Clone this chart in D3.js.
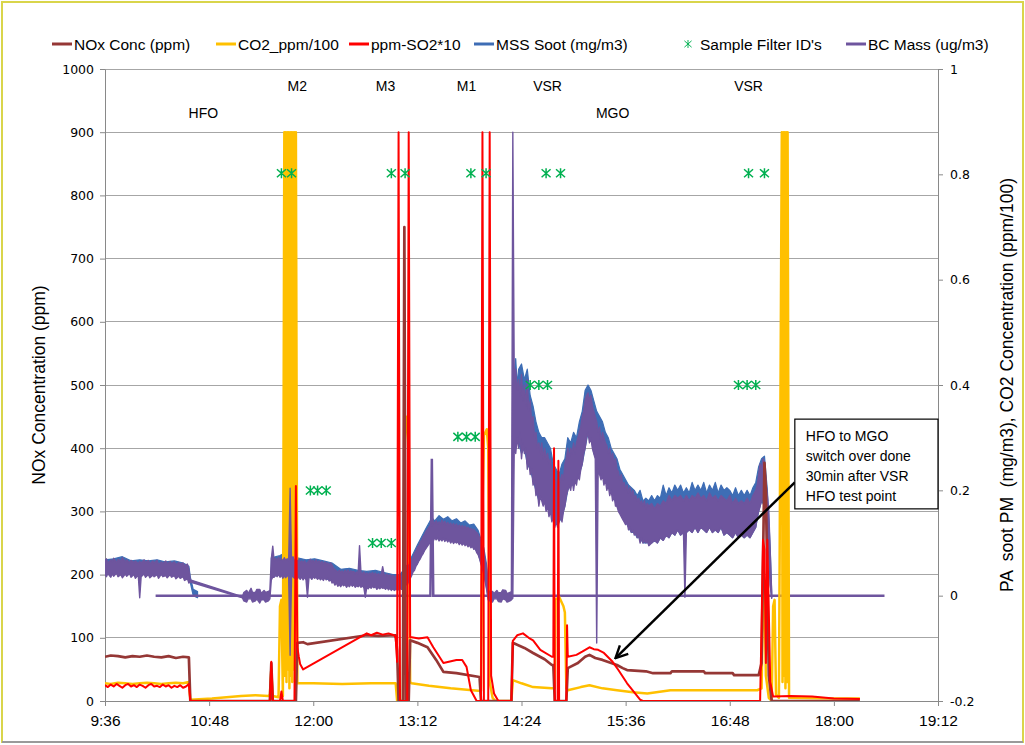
<!DOCTYPE html>
<html><head><meta charset="utf-8">
<script src="https://cdn.jsdelivr.net/npm/d3@7"></script>
<style>body{margin:0;background:#fff}svg{display:block}</style>
</head><body>
<svg id="chart" width="1025" height="745"></svg>
<script>
// ---------- DATA ----------
const xTickLabels = ["9:36","10:48","12:00","13:12","14:24","15:36","16:48","18:00","19:12"];
const leftTicks = [0,100,200,300,400,500,600,700,800,900,1000];
const rightTicks = [-0.2,0,0.2,0.4,0.6,0.8,1];
const rightTickLabels = ["-0.2","0","0.2","0.4","0.6","0.8","1"];

// NOx Conc (ppm) – left axis
const noxConc = [
["9:36",70],["9:40",72],["9:45",71],["9:50",69],["9:55",71],["10:00",70],["10:05",72],["10:10",70],["10:15",69],["10:20",71],["10:25",68],["10:30",70],["10:34",69],["10:35",0],
["11:30",0],["11:31",60],["11:32",0],["11:48",0],["11:49",92],["11:53",93],["11:56",90],
["12:37",104],["12:45",103],["12:57",104],["12:58",80],["12:59",0],["13:02",0],["13:03",750],["13:04",0],["13:06",0],["13:07",96],
["13:12",92],["13:19",85],["13:25",65],["13:30",46],["13:39",44],["13:55",38],["13:56",0],
["14:17",0],["14:18",92],["14:21",89],["14:26",84],["14:32",76],["14:40",66],["14:45",57],["14:46",57],["14:47",0],["14:55",0],["14:56",52],
["15:03",60],["15:08",70],["15:11",73],["15:15",68],["15:20",65],["15:26",60],["15:30",57],["15:34",52],["15:37",49],["15:50",47],["15:55",44],
["16:07",44],["16:08",47],["16:30",47],["16:31",44],["16:50",44],["16:51",41],["17:08",41],["17:10",60],["17:12",377],["17:13",330],["17:15",40],["17:17",0],["18:18",0]
];

// CO2_ppm/100 – left axis units
const co2Conc = [
["9:36",28],["9:40",27],["9:45",29],["9:50",28],["9:55",27],["10:00",28],["10:05",29],["10:10",28],["10:15",27],["10:20",28],["10:25",29],["10:30",28],["10:34",30],["10:35",2],
["10:50",4],["11:00",6],["11:10",8],["11:20",9],["11:29",8],["11:30",10],["11:31",50],["11:32",8],["11:36",6],["11:37",150],["11:38",160],["11:39",8],
["11:40",900],["11:40:30",40],["11:41",900],["11:41:30",30],["11:42",900],["11:42:30",50],["11:43",900],["11:43:30",20],["11:44",900],["11:44:30",40],
["11:45",900],["11:45:30",30],["11:46",900],["11:46:30",50],["11:47",900],["11:47:30",30],["11:48",900],["11:49",28],
["12:00",28],["12:20",27],["12:40",28],["12:57",28],["12:58",0],["13:02",0],["13:03",380],["13:04",450],["13:05",440],["13:06",400],["13:07",30],
["13:08",28],["13:20",24],["13:35",20],["13:50",17],["13:56",16],["13:57",300],["13:58",420],["14:00",430],["14:01",400],["14:02",30],["14:04",5],["14:06",0],
["14:17",0],["14:18",33],["14:24",28],["14:32",22],["14:45",20],["14:47",20],["14:47:30",160],["14:50",165],["14:53",150],["14:54",140],["14:55",20],
["14:56",17],["15:05",22],["15:11",25],["15:20",20],["15:30",17],["15:41",14],["15:51",12],["16:07",17],["16:30",17],["17:07",17],["17:10",20],
["17:11",150],["17:12",180],["17:13",40],["17:15",5],["17:17",0],["17:18",150],["17:19",160],["17:20",10],["17:22",5],
["17:24",900],["17:24:30",30],["17:25",900],["17:25:30",40],["17:26",900],["17:26:30",20],["17:27",900],["17:27:30",30],["17:28",900],["17:29",5],["18:00",4],["18:18",4]
];

// ppm-SO2*10 – left axis
const so2x10 = [
["9:36",25],["9:38",22],["9:40",26],["9:42",23],["9:44",27],["9:46",24],["9:48",21],["9:50",25],["9:52",27],["9:54",23],["9:56",25],["9:58",22],
["10:00",26],["10:02",24],["10:04",21],["10:06",25],["10:08",27],["10:10",23],["10:12",24],["10:14",22],["10:16",26],["10:18",23],["10:20",25],
["10:22",21],["10:24",24],["10:26",22],["10:28",25],["10:30",21],["10:32",23],["10:34",27],["10:35",0],
["11:30",0],["11:31",62],["11:32",0],["11:37",0],["11:38",15],["11:39",0],["11:47",0],["11:48",340],["11:49",85],["11:50",70],["11:51",58],["11:53",50],
["12:37",107],["12:40",104],["12:44",108],["12:48",105],["12:52",107],["12:56",104],["12:57",100],["12:58",62],["12:59",900],["13:00",0],["13:05",0],["13:06",900],["13:07",101],
["13:08",101],["13:13",99],["13:19",101],["13:23",85],["13:30",60],["13:39",65],["13:43",65],["13:46",54],["13:49",17],["13:53",0],["13:56",0],["13:57",900],["13:58",0],
["14:01",0],["14:02",900],["14:03",40],["14:05",12],["14:08",0],["14:17",0],["14:18",95],["14:21",104],["14:25",107],["14:29",100],["14:32",96],["14:37",81],
["14:45",70],["14:46",70],["14:46:30",400],["14:47",0],["14:49",0],["14:49:30",380],["14:50",0],["14:55",0],["14:55:30",120],["14:56",70],
["15:02",73],["15:06",78],["15:11",85],["15:14",82],["15:17",81],["15:21",76],["15:27",62],["15:31",49],["15:37",28],["15:46",2],["15:48",0],
["17:09",0],["17:10",120],["17:11",255],["17:12",240],["17:13",60],["17:14",255],["17:16",30],["17:18",7],["17:30",8],["17:45",7],["18:00",4],["18:18",3]
];

// MSS Soot (mg/m3) – right axis, band [time, low, high]
const mssSoot = [
["9:36",.045,.068],["9:42",.044,.070],["9:48",.046,.074],["9:54",.042,.066],["10:00",.041,.068],["10:06",.040,.066],["10:12",.040,.068],["10:18",.039,.064],
["10:24",.040,.066],["10:30",.036,.062],["10:34",.030,.056],["10:35",.025,.035],["10:37",.000,.012],["10:40",-.004,.008],["10:41",null,null],
["11:31",.035,.072],["11:37",.040,.076],["11:41",.040,.082],["11:45",.038,.074],["11:49",.036,.072],["11:55",.034,.068],["12:01",.038,.070],["12:07",.034,.066],["12:13",.028,.062],
["12:19",.022,.050],["12:25",.022,.052],["12:31",.022,.048],["12:37",.018,.046],["12:43",.020,.048],["12:49",.016,.044],["12:55",.014,.040],["13:00",.014,.040],
["13:06",.032,.062],["13:12",.062,.096],["13:18",.092,.128],["13:22",.108,.148],["13:24",.112,.142],["13:27",.110,.152],["13:30",.110,.145],["13:33",.106,.150],["13:36",.104,.142],
["13:39",.102,.146],["13:42",.100,.138],["13:45",.098,.142],["13:48",.096,.134],["13:51",.092,.136],["13:54",.080,.124],["13:58",.044,.090],["14:00",.012,.056],["14:01",-.006,.014],["14:02",null,null],
["14:19",.30,.42],["14:20",.28,.45],["14:21",.30,.40],["14:22",.29,.43],["14:24",.27,.44],["14:26",.28,.41],["14:28",.25,.43],["14:30",.24,.38],["14:32",.22,.36],
["14:34",.20,.33],["14:36",.18,.31],["14:38",.19,.30],["14:40",.18,.30],["14:42",.17,.29],["14:44",.16,.28],["14:46",.15,.25],["14:48",.14,.24],["14:50",.14,.23],
["14:52",.15,.25],["14:54",.17,.26],["14:56",.20,.30],["14:58",.21,.29],["15:00",.21,.31],["15:02",.22,.30],["15:04",.23,.33],["15:06",.25,.35],["15:08",.28,.39],
["15:10",.31,.40],["15:12",.30,.39],["15:14",.27,.37],["15:16",.26,.35],["15:18",.23,.34],["15:20",.23,.33],["15:22",.22,.31],["15:24",.21,.30],["15:26",.20,.28],
["15:28",.19,.27],["15:30",.17,.26],["15:32",.16,.24],["15:34",.15,.23],["15:36",.14,.22],["15:38",.13,.21],["15:40",.12,.205],["15:42",.12,.20],["15:44",.11,.19],
["15:46",.11,.20],["15:48",.10,.18],["15:50",.10,.185],["15:52",.10,.18],["15:54",.10,.19],["15:56",.105,.18],["15:58",.10,.19],["16:00",.11,.185],["16:02",.105,.21],
["16:04",.115,.19],["16:06",.11,.205],["16:08",.12,.195],["16:10",.115,.21],["16:12",.125,.20],["16:14",.115,.21],["16:16",.12,.195],["16:18",.12,.205],["16:20",.125,.195],
["16:22",.12,.215],["16:24",.13,.20],["16:26",.12,.21],["16:28",.13,.20],["16:30",.125,.215],["16:32",.12,.195],["16:34",.13,.21],["16:36",.12,.20],["16:38",.125,.215],
["16:40",.12,.195],["16:42",.13,.21],["16:44",.115,.20],["16:46",.12,.205],["16:48",.115,.20],["16:50",.11,.19],["16:52",.12,.205],["16:54",.11,.19],["16:56",.115,.20],
["16:58",.11,.19],["17:00",.115,.20],["17:02",.11,.19],["17:04",.12,.205],["17:06",.13,.215],["17:08",.16,.245],["17:10",.18,.26],["17:12",.17,.265],["17:14",.12,.20],
["17:16",.02,.09],["17:17",-.004,.006]
];

// BC Mass – right axis units, band [time, low, high]
const bcMass = [
["9:36",.040,.066],["9:37",.036,.070],["9:38",.042,.062],["9:40",.035,.068],["9:41",.041,.064],["9:42",.037,.071],["9:44",.043,.063],["9:45",.036,.069],["9:47",.040,.065],
["9:48",.034,.072],["9:50",.041,.064],["9:51",.037,.068],["9:53",.042,.062],["9:54",.035,.067],["9:56",.040,.063],["9:57",.033,.066],["9:59",.039,.061],["10:00",-.004,.065],
["10:01",.036,.062],["10:03",.041,.068],["10:04",.035,.063],["10:06",.040,.067],["10:07",.034,.060],["10:09",.039,.066],["10:10",.036,.062],["10:12",.040,.067],["10:13",.033,.059],
["10:15",.041,.064],["10:16",.036,.061],["10:18",.038,.066],["10:19",.034,.060],["10:21",.040,.065],["10:22",.035,.061],["10:24",.038,.064],["10:25",.032,.059],["10:27",.037,.063],
["10:28",.033,.060],["10:30",.036,.062],["10:31",.029,.057],["10:33",.032,.060],["10:34",.024,.050],["10:35",.026,.030],
["11:11",-.004,-.002],["11:12",-.010,.006],["11:14",-.012,.010],["11:15",-.006,.004],["11:17",-.006,.014],["11:18",-.012,.006],["11:20",-.010,.006],["11:21",-.006,.012],
["11:23",-.014,.012],["11:24",-.008,.004],["11:26",-.008,.010],["11:27",-.012,.006],["11:29",-.010,.008],["11:30",-.006,.010],
["11:31",.030,.070],["11:32",.035,.094],["11:33",.035,.065],["11:34",.040,.071],["11:35",.036,.066],["11:36",.041,.073],["11:37",.035,.067],["11:38",.039,.070],["11:39",.033,.066],
["11:40",.038,.072],["11:41",.034,.067],["11:42",.039,.070],["11:43",.035,.066],["11:44",-.113,.204],["11:45",.037,.065],["11:46",.036,.074],["11:47",.033,.066],["11:48",.037,.070],
["11:49",.032,.065],["11:50",.036,.068],["11:51",.031,.063],["11:52",.036,.066],["11:53",.030,.062],["11:54",.035,.066],["11:55",.030,.060],["11:56",-.003,.063],["11:57",.033,.066],
["11:58",.035,.069],["11:59",.031,.064],["12:00",.036,.067],["12:01",.033,.063],["12:02",.035,.068],["12:03",.031,.062],["12:04",.034,.066],["12:05",.030,.061],["12:06",.033,.065],
["12:07",.029,.060],["12:08",.034,.064],["12:09",.030,.061],["12:10",.033,.062],["12:11",.028,.058],["12:12",.031,.062],["12:13",.024,.058],["12:14",.026,.052],["12:15",.020,.050],
["12:16",.024,.047],["12:17",.018,.045],["12:18",.021,.048],["12:19",.017,.044],["12:20",.022,.047],["12:21",.019,.043],["12:22",.021,.048],["12:23",.016,.044],["12:24",.020,.049],
["12:25",.017,.043],["12:26",.022,.047],["12:27",.018,.045],["12:28",.021,.046],["12:29",.016,.042],["12:30",.019,.045],["12:31",.017,.041],["12:32",.020,.095],["12:33",.016,.044],
["12:34",.019,.041],["12:35",.015,.045],["12:36",-.003,.040],["12:37",.016,.043],["12:38",.013,.039],["12:39",.017,.043],["12:40",.014,.040],["12:41",.018,.044],["12:42",.015,.039],
["12:43",.017,.043],["12:44",.012,.038],["12:45",.016,.042],["12:46",.013,.039],["12:47",.016,.041],["12:48",.014,.055],["12:49",.015,.040],["12:50",.012,.038],["12:51",.016,.041],
["12:52",.011,.037],["12:53",.014,.040],["12:54",.010,.036],["12:55",.013,.039],["12:56",.010,.035],["12:57",.012,.037],["12:59",.011,.035],["13:00",.014,.038],["13:01",.012,.036],
["13:02",.017,.042],["13:03",.015,.045],["13:04",.022,.048],["13:05",.020,.052],["13:06",.028,.058],["13:07",.032,.060],["13:08",.038,.068],["13:09",.045,.072],["13:10",.048,.080],
["13:11",.056,.084],["13:12",.060,.092],["13:13",.066,.095],["13:14",.070,.102],["13:15",.076,.106],["13:16",.080,.112],["13:17",.086,.116],["13:18",.090,.122],["13:19",.094,.126],
["13:20",.098,.130],["13:21",.100,.134],["13:22",.105,.132],["13:23",.104,.140],["13:24",.110,.138],["13:25",.106,.142],["13:26",.110,.136],["13:27",.104,.140],["13:28",.108,.135],
["13:29",.104,.143],["13:30",.109,.137],["13:31",.103,.141],["13:32",.107,.134],["13:33",.102,.139],["13:34",.106,.133],["13:35",.100,.138],["13:36",.104,.132],["13:37",.099,.137],
["13:38",.103,.131],["13:39",.100,.136],["13:40",.102,.130],["13:41",.097,.134],["13:42",.101,.129],["13:43",.096,.133],["13:44",.100,.128],["13:45",.095,.132],["13:46",.098,.127],
["13:47",.093,.130],["13:48",.096,.126],["13:49",.091,.128],["13:50",.094,.124],["13:51",.088,.126],["13:52",.090,.122],["13:53",.082,.120],["13:54",.078,.116],["13:55",.070,.110],
["13:56",.060,.100],["13:57",.050,.090],["13:58",.040,.080],["13:59",.025,.065],["14:00",.010,.050],["14:01",-.008,.012],
["14:02",-.010,.006],["14:04",-.012,.008],["14:05",-.006,.004],["14:07",-.006,.010],["14:08",-.011,.005],["14:10",-.012,.006],["14:11",-.006,.011],["14:13",-.008,.010],
["14:14",-.012,.004],["14:16",-.010,.006],["14:17",-.008,.008],["14:18",-.005,.88],
["14:19",.29,.40],["14:20",.27,.43],["14:21",.30,.39],["14:22",.28,.41],["14:23",.31,.38],["14:24",.26,.42],["14:25",.29,.37],["14:26",.27,.40],["14:27",.28,.36],["14:28",.24,.41],
["14:29",.26,.35],["14:30",.23,.37],["14:31",.24,.33],["14:32",.21,.34],["14:33",.22,.30],["14:34",.19,.31],["14:35",.20,.28],["14:36",.17,.29],["14:37",.19,.27],["14:38",.18,.29],
["14:39",.17,.26],["14:40",.18,.28],["14:41",.16,.26],["14:42",.17,.27],["14:43",.15,.25],["14:44",.16,.26],["14:45",.14,.23],["14:46",.15,.24],["14:47",.13,.21],["14:48",.14,.22],
["14:49",.13,.20],["14:50",.14,.21],["14:51",.15,.22],["14:52",.14,.23],["14:53",.16,.22],["14:54",.17,.25],["14:55",.19,.26],["14:56",.20,.28],["14:57",.21,.26],["14:58",.20,.28],
["14:59",.22,.27],["15:00",.20,.29],["15:01",.22,.27],["15:02",.21,.29],["15:03",.23,.30],["15:04",.22,.31],["15:05",.24,.32],["15:06",.25,.34],["15:07",.27,.35],["15:08",.28,.37],
["15:09",.30,.38],["15:10",.31,.385],["15:11",.29,.37],["15:12",.30,.38],["15:13",.28,.36],["15:14",.27,.35],["15:15",.26,.34],["15:16",-.09,.33],["15:17",.24,.31],["15:18",.23,.32],
["15:19",.22,.29],["15:20",.23,.31],["15:21",.21,.30],["15:22",.22,.29],["15:23",.20,.285],["15:24",.21,.27],["15:25",.19,.28],["15:26",.20,.26],["15:27",.18,.27],["15:28",.19,.25],
["15:29",.17,.26],["15:30",.17,.24],["15:31",.16,.235],["15:32",.155,.22],["15:33",.15,.23],["15:34",.145,.21],["15:35",.14,.215],["15:36",.135,.20],["15:37",.14,.21],["15:38",.125,.195],
["15:39",.13,.205],["15:40",.12,.19],["15:41",.125,.20],["15:42",.115,.185],["15:43",.12,.19],["15:44",.11,.18],["15:45",.115,.185],["15:46",.10,.175],["15:47",.11,.18],["15:48",.10,.17],
["15:49",.105,.18],["15:50",.10,.165],["15:51",.105,.175],["15:52",.095,.17],["15:54",.10,.175],["15:56",.105,.165],["15:58",.10,.175],["16:00",.11,.17],["16:02",.105,.18],
["16:04",.115,.175],["16:06",.11,.19],["16:08",.12,.18],["16:10",.115,.19],["16:12",.125,.185],["16:14",.115,.19],["16:16",.12,.18],["16:17",-.003,.185],["16:18",.12,.19],
["16:20",.125,.18],["16:22",.12,.19],["16:24",.13,.185],["16:26",.12,.195],["16:28",.13,.185],["16:30",.125,.19],["16:32",.12,.18],["16:34",.13,.195],["16:36",.12,.185],
["16:38",.125,.19],["16:40",.12,.18],["16:42",.13,.19],["16:44",.115,.185],["16:46",.12,.18],["16:48",.115,.19],["16:50",.11,.175],["16:52",.12,.185],["16:54",.11,.175],
["16:56",.115,.18],["16:58",.11,.175],["17:00",.115,.185],["17:02",.11,.175],["17:04",.12,.19],["17:06",.13,.20],["17:07",.15,.21],["17:08",.16,.23],["17:09",.17,.25],
["17:10",.18,.24],["17:11",.19,.26],["17:12",.17,.25],["17:13",.16,.22],["17:14",.12,.19],["17:15",.10,.16],["17:16",.02,.08],["17:17",-.005,.005]
];
// BC Mass zero-level trace
const bcZero = [["10:11",0],["13:21",0],["13:22",.26],["13:23",0],["18:35",0]];

// Sample Filter ID's – left axis
const sampleTimes = ["11:38","11:45","12:54","13:03:30","13:49","13:59:30","14:41","14:51","17:01","17:12",
  "14:30","14:36","14:42","16:54","17:00","17:06","13:40","13:46","13:52","11:58","12:03","12:09","12:41","12:47","12:54"];
const sampleValues = [835,835,835,835,835,835,835,835,835,835,500,500,500,500,500,500,418,418,418,333,333,333,250,250,250];

// Test-point labels
const pointLabels = ["HFO","M2","M3","M1","VSR","MGO","VSR"];
const pointLabelTimes = ["10:44","11:49","12:50","13:46","14:42","15:27","17:01"];
const pointLabelLevels = [930,973,973,973,973,930,973];

const annotationLines = ["HFO to MGO","switch over done","30min after VSR","HFO test point"];

// ---------- DRAW ----------
const tm = s => { const p = s.split(":").map(Number); return new Date(2000,0,1,p[0],p[1],p[2]||0); };
const svg = d3.select("#chart");
const W = 1025, H = 745;
const L = 105, R = 938, T = 69, B = 701;
const x = d3.scaleTime().domain([tm("9:36"), tm("19:12")]).range([L, R]);
const yL = d3.scaleLinear().domain([0,1000]).range([B, T]);
const yR = d3.scaleLinear().domain([-0.2,1]).range([B, T]);

const C = {nox:"#953735", co2:"#FFC000", so2:"#FF0000", mss:"#3E6DB5", star:"#00B050", bc:"#6E559E", grid:"#A6A6A6", axis:"#898989"};
const FONT = "Liberation Sans, Arial, sans-serif";

svg.append("rect").attr("width",W).attr("height",H).attr("fill","#fff");
svg.append("rect").attr("x",2).attr("y",2).attr("width",W-4).attr("height",H-5)
  .attr("fill","none").attr("stroke","#D9D54B").attr("stroke-width",2);
svg.append("line").attr("x1",2).attr("x2",W-2).attr("y1",H-3).attr("y2",H-3).attr("stroke","#9a9a9a").attr("stroke-width",2);

// gridlines
svg.append("g").selectAll("line").data(leftTicks.filter(d=>d>0)).join("line")
  .attr("x1",L).attr("x2",R).attr("y1",d=>yL(d)).attr("y2",d=>yL(d))
  .attr("stroke",C.grid).attr("stroke-width",1).attr("shape-rendering","crispEdges");

// axes
const styleAxis = g => { g.select(".domain").attr("stroke",C.axis);
  g.selectAll(".tick line").attr("stroke",C.axis);
  g.selectAll("text").attr("fill","#000"); };
svg.append("g").attr("transform",`translate(${L},0)`)
  .call(d3.axisLeft(yL).tickValues(leftTicks).tickSize(5).tickSizeOuter(0).tickFormat(d3.format("d")))
  .call(styleAxis).selectAll("text").attr("font-family","DejaVu Sans, Verdana, sans-serif").attr("font-size",12.5).attr("dx",-3);
svg.append("g").attr("transform",`translate(${R},0)`)
  .call(d3.axisRight(yR).tickValues(rightTicks).tickSize(5).tickSizeOuter(0).tickFormat((d,i)=>rightTickLabels[i]))
  .call(styleAxis).selectAll("text").attr("font-family","DejaVu Sans, Verdana, sans-serif").attr("font-size",12.5).attr("dx",4);
svg.append("g").attr("transform",`translate(0,${B})`)
  .call(d3.axisBottom(x).tickValues(xTickLabels.map(tm)).tickSize(5).tickSizeOuter(0).tickFormat((d,i)=>xTickLabels[i]))
  .call(styleAxis).selectAll("text").attr("font-family",FONT).attr("font-size",15.5).attr("dy","1.1em");

// axis titles
svg.append("text").attr("transform",`translate(45,${(T+B)/2}) rotate(-90)`).attr("text-anchor","middle")
  .attr("font-family",FONT).attr("font-size",17.5).text("NOx Concentration (ppm)");
svg.append("text").attr("transform",`translate(1013,${(T+B)/2}) rotate(-90)`).attr("text-anchor","middle")
  .attr("font-family",FONT).attr("font-size",17.5).style("white-space","pre")
  .text("PA  soot PM  (mg/m3), CO2 Concentration (ppm/100)");

// clip
svg.append("clipPath").attr("id","clip").append("rect").attr("x",L).attr("y",T-2).attr("width",R-L).attr("height",B-T+2);
const plot = svg.append("g").attr("clip-path","url(#clip)");

// soot bands
const band = (sc) => d3.area().defined(d=>d[1]!==null).x(d=>x(tm(d[0]))).y0(d=>sc(d[1])).y1(d=>sc(d[2]));
plot.append("path").datum(mssSoot).attr("d",band(yR)).attr("fill",C.mss).attr("stroke",C.mss).attr("stroke-width",1.2).attr("stroke-linejoin","round");
plot.append("path").datum(bcZero).attr("d",d3.line().x(d=>x(tm(d[0]))).y(d=>yR(d[1])))
  .attr("fill","none").attr("stroke",C.bc).attr("stroke-width",2.5);

// line series
const lineL = d3.line().x(d=>x(tm(d[0]))).y(d=>yL(d[1]));
plot.append("path").datum(co2Conc).attr("d",lineL).attr("fill","none").attr("stroke",C.co2).attr("stroke-width",2.5).attr("stroke-linejoin","round");
plot.append("path").datum(bcMass).attr("d",band(yR)).attr("fill",C.bc).attr("stroke",C.bc).attr("stroke-width",1.4).attr("stroke-linejoin","round");
plot.append("path").datum(noxConc).attr("d",lineL).attr("fill","none").attr("stroke",C.nox).attr("stroke-width",2.7).attr("stroke-linejoin","round");
plot.append("path").datum(so2x10).attr("d",lineL).attr("fill","none").attr("stroke",C.so2).attr("stroke-width",2).attr("stroke-linejoin","round");

// sample markers
const starPath = "M0,-5V5M-4.5,-4L4.5,4M-4.5,4L4.5,-4";
plot.append("g").selectAll("path").data(sampleTimes).join("path")
  .attr("transform",(d,i)=>`translate(${x(tm(d))},${yL(sampleValues[i])})`)
  .attr("d",starPath).attr("fill","none").attr("stroke",C.star).attr("stroke-width",1.5);

// test-point labels
svg.append("g").selectAll("text").data(pointLabels).join("text")
  .attr("x",(d,i)=>x(tm(pointLabelTimes[i]))).attr("y",(d,i)=>yL(pointLabelLevels[i]))
  .attr("text-anchor","middle").attr("dominant-baseline","central")
  .attr("font-family",FONT).attr("font-size",14).text(d=>d);

// annotation
const boxX0 = x(tm("17:33")), boxX1 = x(tm("19:12")), boxY0 = yL(446), boxY1 = yL(304);
svg.append("defs").append("marker").attr("id","arr").attr("viewBox","0 0 10 10").attr("refX",9).attr("refY",5)
  .attr("markerWidth",6).attr("markerHeight",6).attr("orient","auto")
  .append("path").attr("d","M1,1L9,5L1,9").attr("fill","none").attr("stroke","#000").attr("stroke-width",1.6);
svg.append("line").attr("x1",boxX0).attr("y1",yL(346)).attr("x2",x(tm("15:29"))).attr("y2",yL(68))
  .attr("stroke","#000").attr("stroke-width",2.5).attr("marker-end","url(#arr)");
svg.append("rect").attr("x",boxX0).attr("y",boxY0).attr("width",boxX1-boxX0).attr("height",boxY1-boxY0)
  .attr("fill","#fff").attr("stroke","#000").attr("stroke-width",1.2);
svg.append("g").selectAll("text").data(annotationLines).join("text")
  .attr("x",boxX0+11).attr("y",(d,i)=>boxY0+17+i*20).attr("dominant-baseline","central")
  .attr("font-family",FONT).attr("font-size",14).text(d=>d);

// legend
const legendItems = [
  {name:"NOx Conc (ppm)", color:C.nox, type:"line", x:52},
  {name:"CO2_ppm/100", color:C.co2, type:"line", x:216},
  {name:"ppm-SO2*10", color:C.so2, type:"line", x:349},
  {name:"MSS Soot (mg/m3)", color:C.mss, type:"line", x:474},
  {name:"Sample Filter ID's", color:C.star, type:"star", x:678},
  {name:"BC Mass (ug/m3)", color:C.bc, type:"line", x:846}
];
const lg = svg.append("g").selectAll("g").data(legendItems).join("g").attr("transform",d=>`translate(${d.x},44)`);
lg.filter(d=>d.type==="line").append("line").attr("x1",0).attr("x2",20).attr("stroke",d=>d.color).attr("stroke-width",3);
lg.filter(d=>d.type==="star").append("path").attr("transform","translate(10,0) scale(0.8)").attr("d",starPath)
  .attr("fill","none").attr("stroke",d=>d.color).attr("stroke-width",1.2);
lg.append("text").attr("x",22).attr("dominant-baseline","central")
  .attr("font-family",FONT).attr("font-size",15.5).text(d=>d.name);
</script>
</body></html>
